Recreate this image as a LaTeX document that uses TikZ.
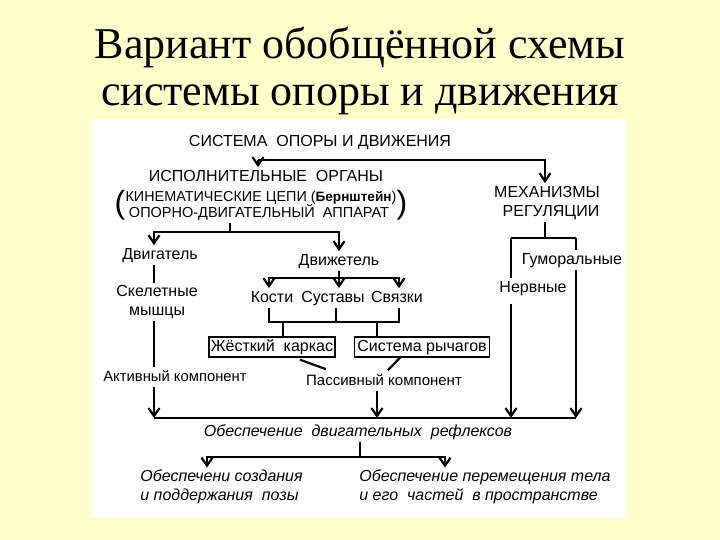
\documentclass[tikz,border=0pt]{standalone}
\usepackage{fontspec}
\setmainfont{Liberation Serif}
\setsansfont{Liberation Sans}
\usetikzlibrary{arrows.meta, positioning, calc}
\definecolor{slidebg}{RGB}{255,255,204}

\begin{document}
\begin{tikzpicture}[x=0.5pt, y=-0.5pt, >={Straight Barb[length=4pt,width=5.5pt]},
    lbl/.style={font=\sffamily\fontsize{8}{9.5}\selectfont, inner sep=1pt},
    one/.style={lbl, text height=5.8pt, text depth=1.7pt},
    itl/.style={font=\sffamily\itshape\fontsize{8}{9.5}\selectfont, inner sep=1pt, align=left},
    box/.style={one, draw, line width=0.7pt, minimum height=10pt},
    paren/.style={lbl, inner sep=0pt, font=\sffamily\fontsize{16}{16}\selectfont},
    ln/.style={line width=1.1pt}]

    % slide
    \fill[slidebg] (0,0) rectangle (720,540);
    \fill[white] (92,119) rectangle (627,518);
    \node[font=\fontsize{22}{26}\selectfont, anchor=base] (title1) at (360,59) {Вариант обобщённой схемы};
    \node[font=\fontsize{22}{26}\selectfont, anchor=base] (title2) at (360,106) {системы опоры и движения};

    % columns
    \coordinate (cL) at (154,0);
    \coordinate (cT) at (258,0);
    \coordinate (cI) at (230,0);
    \coordinate (cM) at (339,0);
    \coordinate (cK) at (269,0);
    \coordinate (cS) at (336,0);
    \coordinate (cV) at (399,0);
    \coordinate (cA) at (283,0);
    \coordinate (cP) at (377,0);
    \coordinate (cR) at (545,0);
    \coordinate (cN) at (511,0);
    \coordinate (cG) at (576,0);

    % top level
    \node[one] (sys) at (320,142) {СИСТЕМА\ \ ОПОРЫ И ДВИЖЕНИЯ};
    \node[one] (isp) at (266,177) {ИСПОЛНИТЕЛЬНЫЕ\ \ ОРГАНЫ};
    \node[one, font=\sffamily\fontsize{7.2}{9}\selectfont] (kin) at (261,197) {КИНЕМАТИЧЕСКИЕ ЦЕПИ ({\bfseries\fontsize{6.8}{9}\selectfont Бернштейн})};
    \node[one, font=\sffamily\fontsize{7.25}{9}\selectfont] (opd) at (259,213) {ОПОРНО-ДВИГАТЕЛЬНЫЙ\ \ АППАРАТ};
    \node[paren] (lpar) at (120,205) {(};
    \node[paren] (rpar) at (402,205) {)};
    \node[one] (mech) at (547,193) {МЕХАНИЗМЫ};
    \node[one] (reg) at (551,212) {РЕГУЛЯЦИИ};

    \coordinate (top) at (cT |- 0,160);
    \draw[ln,->] (top) -- (top -| cR) -- (cR |- mech.north);
    \draw[ln,->] (top) -- (top |- isp.north);

    % executive organs
    \node[one] (dvig) at (160,255) {Двигатель};
    \node[one] (dvizh) at (339,261) {Движетель};
    \node[lbl, align=center] (skel) at (157,302) {Скелетные\\мышцы};
    \node[one] (kosti) at (272,298) {Кости};
    \node[one] (sust) at (333,298) {Суставы};
    \node[one] (svyaz) at (397,298) {Связки};
    \node[box, minimum width=63pt] (karkas) at (272,347) {Жёсткий\ \ каркас};
    \node[box, minimum width=67.5pt] (rych) at (422,347) {Система рычагов};
    \node[one, font=\sffamily\fontsize{7.4}{9}\selectfont] (akt) at (175,377) {Активный компонент};
    \node[one, font=\sffamily\fontsize{7.5}{9}\selectfont] (pass) at (384,381) {Пассивный компонент};

    \coordinate (ib) at (cI |- 0,232);
    \draw[ln] (cI |- opd.south) -- (ib);
    \draw[ln,->] (ib) -| (cL |- dvig.north);
    \draw[ln,->] (ib) -| (cM |- dvizh.north);
    \draw[ln] (cL |- dvig.south) -- (cL |- skel.north);
    \draw[ln] (cL |- skel.south) -- (cL |- akt.north);

    \coordinate (db) at (cM |- 0,278);
    \draw[ln] (dvizh.south) -- (db);
    \draw[ln,->] (db) -| (cK |- kosti.north);
    \draw[ln,->] (db) -- (db |- sust.north);
    \draw[ln,->] (db) -| (cV |- svyaz.north);

    \coordinate (kb) at (cS |- 0,322);
    \draw[ln] (cK |- kosti.south) -- (cK |- kb) -- (cV |- kb) -- (cV |- svyaz.south);
    \draw[ln] (cS |- sust.south) -- (kb);
    \draw[ln] (cA |- kb) -- (cA |- karkas.north);
    \draw[ln] (cP |- kb) -- (cP |- rych.north);
    \draw[ln] ($(karkas.south)+(28,2)$) -- ($(pass.north west)+(22,-2)$);
    \draw[ln] ($(rych.south)+(-22,0)$) -- ($(pass.north)+(4,-1)$);

    % regulation
    \node[one] (gum) at (572,260) {Гуморальные};
    \node[one] (nerv) at (533,288) {Нервные};
    \coordinate (rb) at (cR |- 0,238);
    \draw[ln] (reg.south -| cR) -- (rb);
    \draw[ln] (rb -| cN) -- (rb -| cG);
    \draw[ln] (rb -| cN) -- (cN |- nerv.north);
    \draw[ln] (rb -| cG) -- (cG |- gum.north);

    % reflexes
    \coordinate (bus) at (cL |- 0,418);
    \draw[ln] (bus) -- (bus -| cG);
    \draw[ln,->] (cL |- akt.south) -- (bus);
    \draw[ln,->] (cP |- pass.south) -- (bus -| cP);
    \draw[ln,->] ($(cN |- nerv.south)+(0,6)$) -- (bus -| cN);
    \draw[ln,->] (cG |- gum.south) -- (bus -| cG);

    \node[itl] (refl) at (358,432) {Обеспечение\ \ двигательных\ \ рефлексов};
    \node[itl, anchor=west] (pose) at (138,487) {Обеспечени создания\\и поддержания\ \ позы};
    \node[itl, anchor=west] (move) at (357,487) {Обеспечение перемещения тела\\и его\ \ частей\ \ в пространстве};

    \coordinate (fb) at (360,457);
    \draw[ln] (refl.south -| fb) -- (fb);
    \draw[ln,->] (fb) -| (207,0 |- pose.north);
    \draw[ln,->] (fb) -| (445,0 |- move.north);
\end{tikzpicture}
\end{document}
